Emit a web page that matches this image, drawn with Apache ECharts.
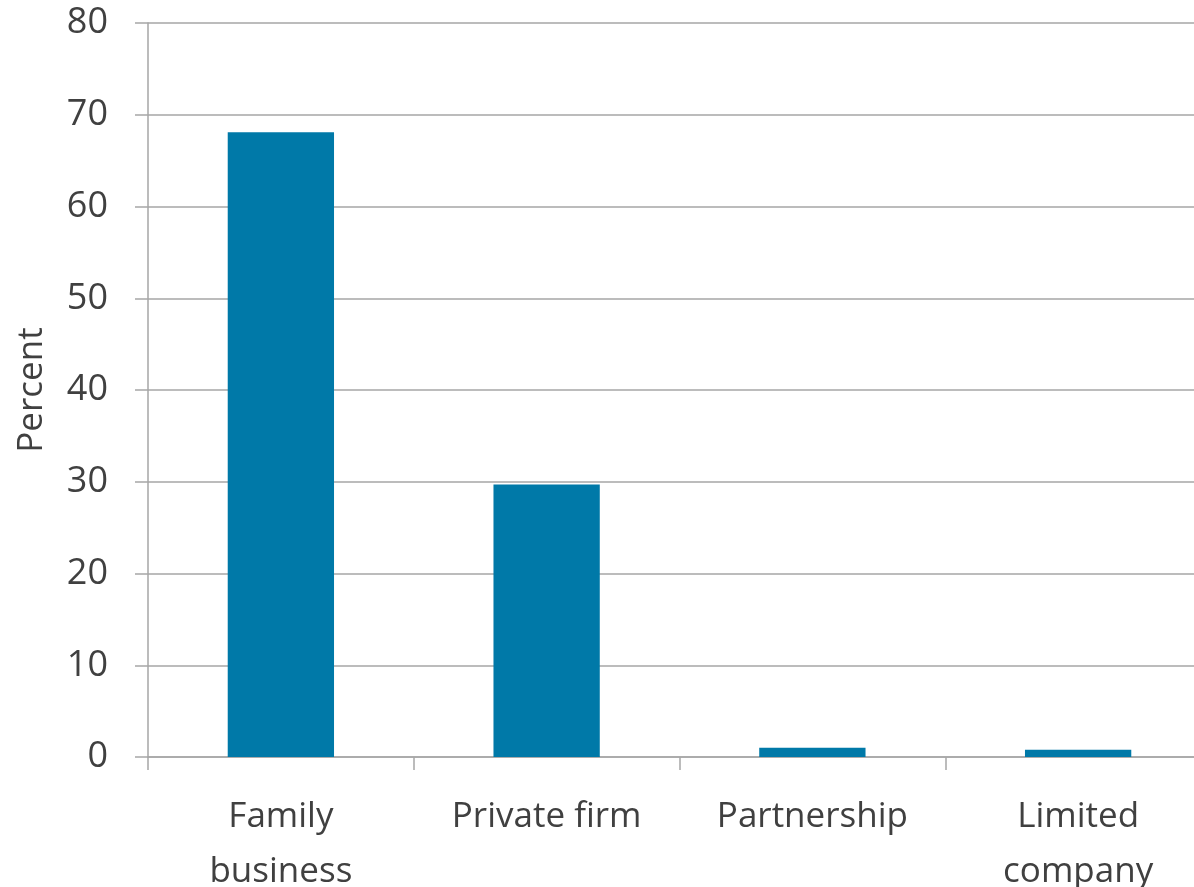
<!DOCTYPE html>
<html><head><meta charset="utf-8">
<script src="https://cdn.jsdelivr.net/npm/echarts@6/dist/echarts.min.js"></script>
<style>html,body{margin:0;padding:0;background:#fff}#c{width:1194px;height:887px}</style>
</head><body><div id="c"></div>
<script>
const categories = ['Family\nbusiness', 'Private firm', 'Partnership', 'Limited\ncompany'];
const values = [68.1, 29.7, 1.0, 0.8];
const yTicks = {min: 0, max: 80, interval: 10};
const axisName = 'Percent';

const chart = echarts.init(document.getElementById('c'));
const font = '"Open Sans", sans-serif';
chart.setOption({
  animation: false,
  grid: {left: 148, top: 23, right: -17, bottom: 130, containLabel: false, outerBoundsMode: 'none'},
  xAxis: {
    type: 'category', data: categories,
    axisLine: {lineStyle: {color: '#A6A6A6', width: 1.5}},
    axisTick: {show: true, length: 13, lineStyle: {color: '#A6A6A6', width: 1.5}},
    axisLabel: {color: '#404040', fontFamily: font, fontSize: 35, lineHeight: 55, margin: 33, interval: 0}
  },
  yAxis: {
    type: 'value', min: yTicks.min, max: yTicks.max, interval: yTicks.interval,
    name: axisName, nameLocation: 'middle', nameGap: 98,
    nameTextStyle: {color: '#404040', fontFamily: font, fontSize: 35},
    axisLine: {show: true, lineStyle: {color: '#A6A6A6', width: 1.5}},
    axisTick: {show: true, length: 13, lineStyle: {color: '#A6A6A6', width: 1.5}},
    splitLine: {lineStyle: {color: '#A6A6A6', width: 1.5}},
    axisLabel: {color: '#404040', fontFamily: font, fontSize: 36, margin: 40}
  },
  series: [{type: 'bar', data: values, barWidth: '40%', itemStyle: {color: '#0079A8'}}]
});
</script></body></html>
